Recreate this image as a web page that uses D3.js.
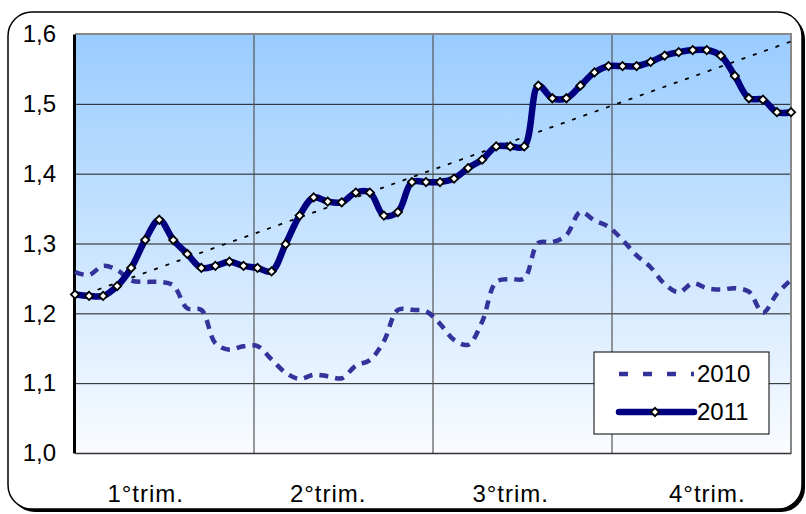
<!DOCTYPE html>
<html>
<head>
<meta charset="utf-8">
<script src="https://cdn.jsdelivr.net/npm/d3@7"></script>
<style>
  body { margin: 0; background: #fff; }
  svg { display: block; font-family: "Liberation Sans", Arial, sans-serif; }
</style>
</head>
<body>
<script>
const quarters = ['1°trim.', '2°trim.', '3°trim.', '4°trim.']
const quarterWeeks = [5, 18, 31, 45]   // week where each quarter label sits
const yTicks = [1.0, 1.1, 1.2, 1.3, 1.4, 1.5, 1.6]
const seriesNames = ['2010', '2011']

// weekly values, 52 per year
const values2010 = [
  1.259, 1.255, 1.268, 1.262, 1.247, 1.245, 1.245, 1.240, 1.207, 1.205,
  1.157, 1.148, 1.153, 1.153, 1.134, 1.115, 1.106, 1.112, 1.110, 1.107,
  1.125, 1.133, 1.160, 1.205, 1.205, 1.203, 1.185, 1.162, 1.155, 1.188,
  1.245, 1.249, 1.250, 1.301, 1.302, 1.312, 1.345, 1.333, 1.324, 1.305,
  1.283, 1.266, 1.242, 1.230, 1.243, 1.236, 1.234, 1.236, 1.231, 1.201,
  1.228, 1.248
]
const values2011 = [
  1.227, 1.225, 1.225, 1.239, 1.265, 1.305, 1.334, 1.305, 1.285, 1.265,
  1.268, 1.274, 1.268, 1.265, 1.260, 1.299, 1.340, 1.366, 1.360, 1.359,
  1.373, 1.373, 1.340, 1.345, 1.388, 1.388, 1.388, 1.393, 1.408, 1.420,
  1.439, 1.439, 1.439, 1.526, 1.508, 1.508, 1.526, 1.545, 1.554, 1.554,
  1.554, 1.560, 1.569, 1.574, 1.577, 1.577, 1.569, 1.540, 1.508, 1.506,
  1.488, 1.488
]

const W = 806, H = 514
const pLeft = 75, pRight = 791, pTop = 34, pBottom = 453
const fontSize = 24

const svg = d3.select('body').append('svg')
  .attr('width', W)
  .attr('height', H)

const defs = svg.append('defs')
const grad = defs.append('linearGradient')
  .attr('id', 'bg')
  .attr('x1', 0).attr('y1', 0).attr('x2', 0).attr('y2', 1)
grad.append('stop').attr('offset', '0%').attr('stop-color', '#99ccff')
grad.append('stop').attr('offset', '100%').attr('stop-color', '#fafcff')

// outer frame with shadow
svg.append('rect')
  .attr('x', 11).attr('y', 15)
  .attr('width', 794).attr('height', 497)
  .attr('rx', 24)
  .attr('fill', '#000')
svg.append('rect')
  .attr('x', 8).attr('y', 12)
  .attr('width', 794).attr('height', 497)
  .attr('rx', 24)
  .attr('fill', '#fff')
  .attr('stroke', '#000')
  .attr('stroke-width', 1.5)

const x = d3.scaleLinear().domain([0, values2011.length - 1]).range([pLeft, pRight])
const xq = d3.scaleBand().domain(quarters).range([pLeft, pRight])
const y = d3.scaleLinear().domain([1.0, 1.6]).range([pBottom, pTop])

svg.append('rect')
  .attr('x', pLeft).attr('y', pTop)
  .attr('width', pRight - pLeft).attr('height', pBottom - pTop)
  .attr('fill', 'url(#bg)')

// horizontal gridlines
svg.append('g')
  .attr('transform', `translate(${pLeft},0)`)
  .call(d3.axisLeft(y).tickValues(yTicks.slice(1, -1)).tickSize(-(pRight - pLeft)).tickFormat(''))
  .call(g => g.select('.domain').remove())
  .call(g => g.selectAll('line').attr('stroke', '#1a1a1a').attr('stroke-width', 1))

// vertical gridlines between quarters
svg.append('g')
  .selectAll('line')
  .data(quarters.slice(1))
  .enter()
  .append('line')
  .attr('x1', d => xq(d)).attr('x2', d => xq(d))
  .attr('y1', pTop).attr('y2', pBottom)
  .attr('stroke', '#555')
  .attr('stroke-width', 1.2)

// plot border top / right
svg.append('path')
  .attr('d', `M${pLeft},${pTop}H${pRight}V${pBottom}`)
  .attr('fill', 'none')
  .attr('stroke', '#888')
  .attr('stroke-width', 2)

// x axis
svg.append('g')
  .attr('transform', `translate(0,${pBottom})`)
  .call(d3.axisBottom(x).tickValues(quarterWeeks).tickSize(0).tickPadding(32)
    .tickFormat((d, i) => quarters[i]))
  .call(g => g.select('.domain').attr('stroke', '#333').attr('stroke-width', 1.5))
  .call(g => g.selectAll('text')
    .attr('font-size', fontSize)
    .attr('letter-spacing', 1)
    .attr('font-family', '"Liberation Sans", Arial, sans-serif')
    .attr('fill', '#000'))

// y axis
svg.append('g')
  .attr('transform', `translate(${pLeft - 1},0)`)
  .call(d3.axisLeft(y).tickValues(yTicks).tickSize(0).tickPadding(18)
    .tickFormat(d => d.toFixed(1).replace('.', ',')))
  .call(g => g.select('.domain').attr('stroke', '#000').attr('stroke-width', 3))
  .call(g => g.selectAll('text')
    .attr('font-size', fontSize)
    .attr('font-family', '"Liberation Sans", Arial, sans-serif')
    .attr('fill', '#000'))

const line = d3.line()
  .x((d, i) => x(i))
  .y(d => y(d))
  .curve(d3.curveCatmullRom.alpha(0.5))

// 2010 dashed
svg.append('path')
  .datum(values2010)
  .attr('d', line)
  .attr('fill', 'none')
  .attr('stroke', '#333399')
  .attr('stroke-width', 4.5)
  .attr('stroke-dasharray', '9,7')

// linear trend of 2011
const idx = values2011.map((d, i) => i)
const n = idx.length
const mx = d3.mean(idx), my = d3.mean(values2011)
const slope = d3.sum(idx, i => (i - mx) * (values2011[i] - my)) / d3.sum(idx, i => (i - mx) ** 2)
const icpt = my - slope * mx
svg.append('line')
  .attr('x1', x(0)).attr('y1', y(icpt))
  .attr('x2', x(n - 1)).attr('y2', y(icpt + slope * (n - 1)))
  .attr('stroke', '#000')
  .attr('stroke-width', 1.8)
  .attr('stroke-dasharray', '4,8')

// 2011 solid with markers
svg.append('path')
  .datum(values2011)
  .attr('d', line)
  .attr('fill', 'none')
  .attr('stroke', '#000080')
  .attr('stroke-width', 6.5)
  .attr('stroke-linejoin', 'round')

const diamond = d3.symbol(d3.symbolSquare, 34)
svg.append('g')
  .selectAll('path')
  .data(values2011)
  .enter()
  .append('path')
  .attr('d', diamond)
  .attr('transform', (d, i) => `translate(${x(i)},${y(d)}) rotate(45)`)
  .attr('fill', '#fff')
  .attr('stroke', '#000')
  .attr('stroke-width', 1.8)

// legend
const legend = svg.append('g').attr('transform', 'translate(594,352)')
legend.append('rect')
  .attr('width', 175).attr('height', 82)
  .attr('fill', '#fff')
  .attr('stroke', '#000')
  .attr('stroke-width', 1)

const items = legend.selectAll('.legend-item')
  .data(seriesNames)
  .enter()
  .append('g')
  .attr('class', 'legend-item')
  .attr('transform', (d, i) => `translate(0,${22 + i * 38})`)

items.append('line')
  .attr('x1', 25).attr('x2', 100)
  .attr('stroke', (d, i) => i === 0 ? '#333399' : '#000080')
  .attr('stroke-width', (d, i) => i === 0 ? 4.5 : 6.5)
  .attr('stroke-dasharray', (d, i) => i === 0 ? '9,15' : null)
  .attr('stroke-linecap', (d, i) => i === 0 ? 'butt' : 'round')

items.filter((d, i) => i === 1)
  .append('path')
  .attr('d', diamond)
  .attr('transform', 'translate(61,0) rotate(45)')
  .attr('fill', '#fff')
  .attr('stroke', '#000')
  .attr('stroke-width', 1.8)

items.append('text')
  .attr('x', 103)
  .attr('y', 8)
  .attr('font-size', fontSize)
  .text(d => d)
</script>
</body>
</html>
